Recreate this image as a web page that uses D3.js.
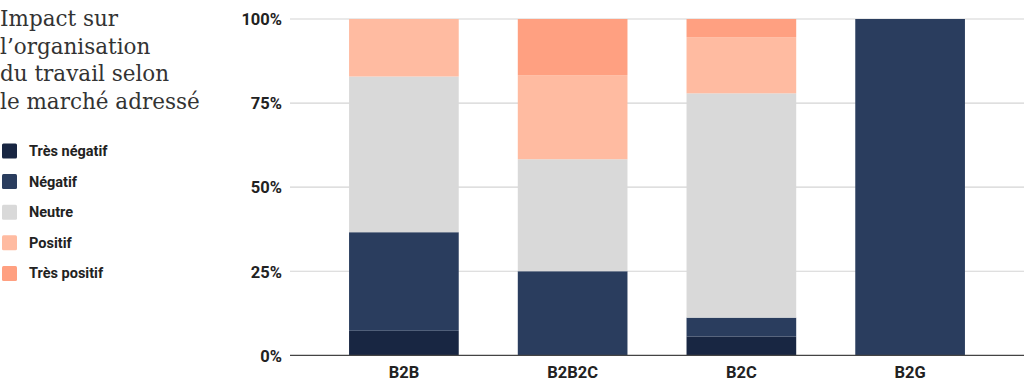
<!DOCTYPE html>
<html><head><meta charset="utf-8">
<script src="https://cdn.jsdelivr.net/npm/d3@7"></script>
<style>body{margin:0;background:#fff}svg{display:block}</style>
</head><body>
<svg id="c" width="1024" height="382"></svg>
<script>
const categories = ["B2B", "B2B2C", "B2C", "B2G"];
const seriesNames = ["Très négatif", "Négatif", "Neutre", "Positif", "Très positif"];
const tresNegatif = [7.3, 0, 5.6, 0];
const negatif = [29.3, 25, 5.6, 100];
const neutre = [46.3, 33.3, 66.7, 0];
const positif = [17.1, 25, 16.7, 0];
const tresPositif = [0, 16.7, 5.4, 0];
const yTicks = [0, 25, 50, 75, 100];
const titleLines = ["Impact sur", "l’organisation", "du travail selon", "le marché adressé"];
const colors = ["#182642", "#2a3d5e", "#d9d9d9", "#ffbba1", "#ffa081"];

const seriesValues = [tresNegatif, negatif, neutre, positif, tresPositif];
const rows = categories.map((c, i) => {
  const r = {cat: c};
  seriesNames.forEach((s, j) => r[s] = seriesValues[j][i]);
  return r;
});
const stack = d3.stack().keys(seriesNames)(rows);

const svg = d3.select("#c");
const x = d3.scaleBand().domain(categories).range([290, 1024]).paddingInner(0.35).paddingOuter(0.35);
const y = d3.scaleLinear().domain([0, 100]).range([355.3, 19]);

// gridlines
svg.append("g").selectAll("line").data(yTicks.filter(t => t > 0)).join("line")
  .attr("x1", 290).attr("x2", 1024)
  .attr("y1", d => y(d)).attr("y2", d => y(d))
  .attr("stroke", "#d4d4d4").attr("stroke-width", 1.2);

// bars
svg.append("g").selectAll("g").data(stack).join("g")
  .attr("fill", (d, i) => colors[i])
  .selectAll("rect").data(d => d).join("rect")
  .attr("x", d => x(d.data.cat))
  .attr("width", x.bandwidth())
  .attr("y", d => y(d[1]))
  .attr("height", d => Math.max(0, y(d[0]) - y(d[1])));

// baseline
svg.append("line").attr("x1", 290).attr("x2", 1024).attr("y1", y(0)).attr("y2", y(0))
  .attr("stroke", "#444").attr("stroke-width", 1.2);

// y axis
const ya = svg.append("g").attr("transform", "translate(282,0)")
  .call(d3.axisLeft(y).tickValues(yTicks).tickFormat(d => d + "%").tickSize(0).tickPadding(0));
ya.select(".domain").remove();
ya.selectAll("text").attr("font-family", "Roboto").attr("font-weight", "bold")
  .attr("font-size", 16.5).attr("fill", "#222").attr("dy", "0.35em");

// x axis
const xa = svg.append("g").attr("transform", "translate(0," + 372 + ")")
  .call(d3.axisBottom(x).tickSize(0).tickPadding(0));
xa.select(".domain").remove();
xa.selectAll("text").attr("font-family", "Roboto").attr("font-weight", "bold")
  .attr("font-size", 16.5).attr("fill", "#222").attr("dy", "0.35em");

// title
svg.append("g").selectAll("text").data(titleLines).join("text")
  .attr("x", 0).attr("y", (d, i) => 26 + i * 27.5)
  .attr("font-family", "DejaVu Serif").attr("font-size", 21.5).attr("fill", "#333")
  .text(d => d);

// legend
const lg = svg.append("g").selectAll("g").data(seriesNames).join("g")
  .attr("transform", (d, i) => `translate(2,${143.5 + i * 30.6})`);
lg.append("rect").attr("width", 15).attr("height", 15).attr("rx", 1.5).attr("fill", (d, i) => colors[i]);
lg.append("text").attr("x", 27).attr("y", 7.5).attr("dy", "0.35em")
  .attr("font-family", "Roboto").attr("font-weight", "bold").attr("font-size", 14.5).attr("fill", "#222")
  .text(d => d);
</script>
</body></html>
